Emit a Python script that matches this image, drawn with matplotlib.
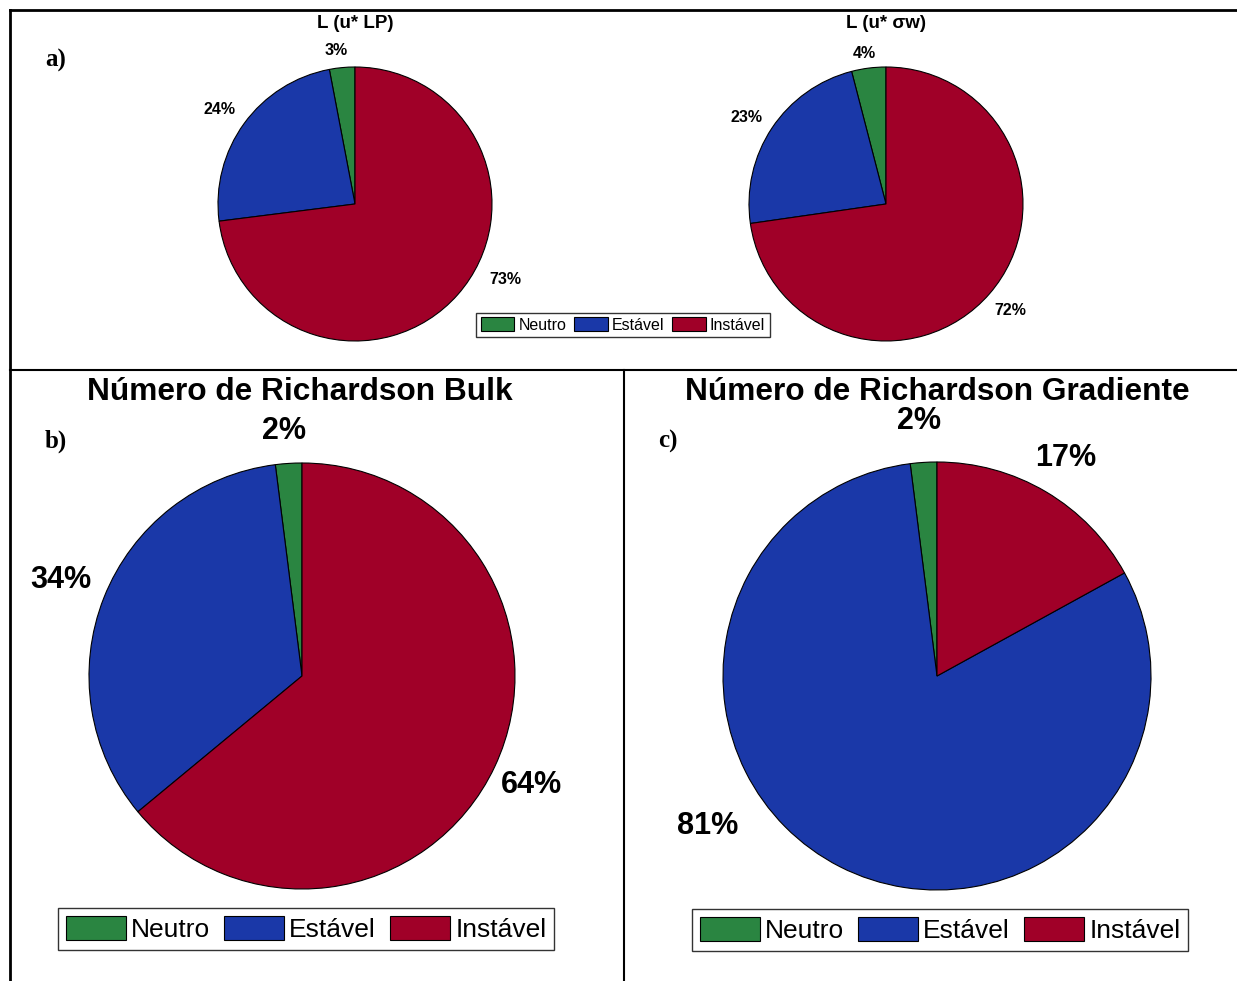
import matplotlib
matplotlib.use('Agg')
import matplotlib.pyplot as plt
from matplotlib.lines import Line2D
from matplotlib.patches import Patch

plt.rcParams['font.family'] = ['Liberation Sans', 'DejaVu Sans']

W, H = 1237, 981

categorias = ['Neutro', 'Estável', 'Instável']
cores = ['#2a8541', '#1a38a8', '#a00028']

L_LP = [3, 24, 73]
L_sw = [4, 23, 72]
Ri_bulk = [2, 34, 64]
Ri_grad = [2, 81, 17]

rotulos_L_LP = ['3%', '24%', '73%']
rotulos_L_sw = ['4%', '23%', '72%']
rotulos_bulk = ['2%', '34%', '64%']
rotulos_grad = ['2%', '81%', '17%']

fig = plt.figure(figsize=(W / 100, H / 100), dpi=100)


def fx(x):
    return x / W


def fy(y):
    return 1 - y / H


def pizza(cx, cy, R, valores, rotulos, pos_rotulos, fs):
    ax = fig.add_axes([fx(cx - R), fy(cy + R), 2 * R / W, 2 * R / H])
    ax.pie(valores, colors=cores, startangle=90, counterclock=True,
           wedgeprops=dict(edgecolor='black', linewidth=0.8))
    ax.set_xlim(-1, 1)
    ax.set_ylim(-1, 1)
    ax.set_aspect('equal')
    ax.axis('off')
    for txt, (px, py) in zip(rotulos, pos_rotulos):
        ax.text(px, py, txt, ha='center', va='center', fontsize=fs,
                fontweight='bold', clip_on=False)
    return ax


# a) comprimento de Obukhov
pizza(355, 204, 137, L_LP, rotulos_L_LP,
      [(-0.14, 1.12), (-0.99, 0.69), (1.10, -0.55)], 11.5)
pizza(886, 204, 137, L_sw, rotulos_L_sw,
      [(-0.16, 1.10), (-1.02, 0.63), (0.91, -0.78)], 11.5)

# b) e c) Richardson
pizza(302, 676, 213, Ri_bulk, rotulos_bulk,
      [(-0.085, 1.15), (-1.13, 0.45), (1.075, -0.51)], 22)
pizza(937, 676, 214, Ri_grad, rotulos_grad,
      [(-0.084, 1.19), (-1.07, -0.70), (0.60, 1.02)], 22)

# titulos
fig.text(fx(355), fy(24), 'L (u* LP)', ha='center', va='center',
         fontsize=13.5, fontweight='bold')
fig.text(fx(886), fy(24), 'L (u* σw)', ha='center', va='center',
         fontsize=13.5, fontweight='bold')
fig.text(fx(300), fy(392), 'Número de Richardson Bulk', ha='center',
         va='center', fontsize=22.8, fontweight='bold')
fig.text(fx(937), fy(392), 'Número de Richardson Gradiente', ha='center',
         va='center', fontsize=22.8, fontweight='bold')

# letras dos paineis
for letra, x, y in [('a)', 56, 60), ('b)', 56, 441), ('c)', 668, 441)]:
    fig.text(fx(x), fy(y), letra, ha='center', va='center', fontsize=18,
             fontweight='bold', family='Liberation Serif')

# legendas
handles = [Patch(facecolor=c, edgecolor='black', linewidth=0.8) for c in cores]


def legenda(cx, cy, fs, hl, hh, tp, cs):
    leg = fig.legend(handles, categorias, loc='center',
                     bbox_to_anchor=(fx(cx), fy(cy)), ncol=3, fontsize=fs,
                     frameon=True, fancybox=False, edgecolor='black',
                     handlelength=hl, handleheight=hh, handletextpad=tp,
                     columnspacing=cs, borderpad=0.3, borderaxespad=0)
    leg.get_frame().set_linewidth(1.0)
    return leg


legenda(623, 325, 11.5, 2.1, 0.95, 0.25, 0.5)
legenda(306, 929, 19, 2.27, 1.0, 0.2, 0.53)
legenda(940, 930, 19, 2.27, 1.0, 0.2, 0.53)

# molduras
linhas = [
    ((10, 1237), (10, 10), 2.0),
    ((10, 10), (10, 981), 2.0),
    ((10, 1237), (370, 370), 1.5),
    ((624, 624), (370, 981), 1.5),
]
for xs, ys, lw in linhas:
    fig.add_artist(Line2D([fx(xs[0]), fx(xs[1])], [fy(ys[0]), fy(ys[1])],
                          transform=fig.transFigure, color='black',
                          linewidth=lw))

fig.savefig('out.png', dpi=100)
